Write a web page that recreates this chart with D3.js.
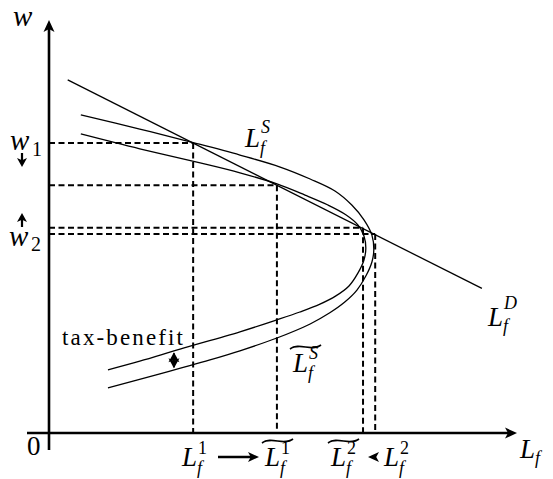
<!DOCTYPE html>
<html>
<head>
<meta charset="utf-8">
<script src="https://cdn.jsdelivr.net/npm/d3@7"></script>
<style>
  body { margin: 0; background: #fff; }
  .rm { font-family: "Liberation Serif"; font-style: normal; }
  .it { font-family: "Liberation Serif"; font-style: italic; }
</style>
</head>
<body>
<svg id="mainFrame" width="553" height="479"></svg>
<script>
const svg = d3.select('#mainFrame');
const width = +svg.attr('width');
const height = +svg.attr('height');

// labour demand L_f^D, two end points (L, w)
const demandL = [0.40, 9.25];
const demandW = [8.55, 3.50];

// original supply L_f^S: upper arm -> bend -> lower arm
const supplyL = [0.68, 1.94, 3.12, 4.08, 4.94, 5.58, 6.11, 6.47, 6.73, 6.90,
                 6.94, 6.90, 6.77, 6.58, 6.32, 6.00, 5.58, 4.87, 4.08, 3.44, 2.37, 1.26];
const supplyW = [7.70, 7.36, 7.02, 6.73, 6.44, 6.15, 5.86, 5.52, 5.16, 4.79,
                 4.43, 4.14, 3.80, 3.46, 3.17, 2.91, 2.64, 2.30, 1.99, 1.77, 1.43, 1.09];

// supply after tax-benefit, ~L_f^S
const taxSupplyL = [0.68, 1.94, 3.23, 4.08, 4.87, 5.47, 5.96, 6.35, 6.60, 6.73,
                    6.77, 6.73, 6.60, 6.41, 6.13, 5.79, 5.36, 4.87, 4.08, 2.80, 1.94, 1.26];
const taxSupplyW = [7.24, 6.88, 6.54, 6.30, 6.03, 5.76, 5.52, 5.28, 5.04, 4.77,
                    4.48, 4.19, 3.87, 3.56, 3.32, 3.12, 2.93, 2.74, 2.45, 2.03, 1.74, 1.53];

// equilibria: L_f^1, ~L_f^1, ~L_f^2, L_f^2
const eqNames = ['1', '1', '2', '2'];
const eqTilde = [false, true, true, false];
const eqL = [3.08, 4.87, 6.71, 6.97];
const eqW = [7.02, 6.00, 4.97, 4.82];

const x = d3.scaleLinear().domain([0, 10]).range([49, 517]);
const y = d3.scaleLinear().domain([0, 10]).range([433, 20]);

const g = svg.append('g');

const pts = (ls, ws) => ls.map((l, i) => [l, ws[i]]);
const curve = d3.line()
    .x(d => x(d[0]))
    .y(d => y(d[1]))
    .curve(d3.curveCatmullRom.alpha(0.5));

// filled arrow head, tip at (tx,ty), pointing along (dx,dy)
const head = (tx, ty, dx, dy, len, half) => {
    const bx = tx - dx * len, by = ty - dy * len;
    const p = d3.path();
    p.moveTo(tx, ty);
    p.lineTo(bx - dy * half, by + dx * half);
    p.lineTo(bx + dx * len * 0.25, by + dy * len * 0.25);
    p.lineTo(bx + dy * half, by - dx * half);
    p.closePath();
    g.append('path').attr('d', p.toString()).attr('fill', 'black');
};

const txt = (px, py, size, s, italic) => g.append('text')
    .attr('class', italic ? 'it' : 'rm')
    .attr('x', px).attr('y', py)
    .attr('font-size', size)
    .attr('fill', 'black')
    .text(s);

// dashed guides
const eq = eqL.map((l, i) => ({L: l, w: eqW[i]}));
g.selectAll('.hdash').data(eq).enter().append('line')
    .attr('x1', x(0)).attr('x2', d => x(d.L))
    .attr('y1', d => y(d.w)).attr('y2', d => y(d.w))
    .attr('stroke', 'black').attr('stroke-width', 2).attr('stroke-dasharray', '6,3.5');
g.selectAll('.vdash').data(eq).enter().append('line')
    .attr('x1', d => x(d.L)).attr('x2', d => x(d.L))
    .attr('y1', d => y(d.w)).attr('y2', y(0))
    .attr('stroke', 'black').attr('stroke-width', 2).attr('stroke-dasharray', '6,3.5');

// curves
g.append('path').attr('d', curve(pts(demandL, demandW)))
    .attr('fill', 'none').attr('stroke', 'black').attr('stroke-width', 1.3);
g.append('path').attr('d', curve(pts(supplyL, supplyW)))
    .attr('fill', 'none').attr('stroke', 'black').attr('stroke-width', 1.3);
g.append('path').attr('d', curve(pts(taxSupplyL, taxSupplyW)))
    .attr('fill', 'none').attr('stroke', 'black').attr('stroke-width', 1.3);

// axes
g.append('line').attr('x1', x(0)).attr('x2', x(0)).attr('y1', y(-0.41)).attr('y2', y(10) + 6)
    .attr('stroke', 'black').attr('stroke-width', 2.6);
head(x(0), y(10), 0, -1, 12, 5.5);
g.append('line').attr('x1', x(-0.47)).attr('x2', x(10) - 6).attr('y1', y(0)).attr('y2', y(0))
    .attr('stroke', 'black').attr('stroke-width', 2.6);
head(x(10), y(0), 1, 0, 12, 5.5);

// math label: base letter with sub / sup, optional wide tilde
const tilde = (x0, x1, yy) => {
    const w = x1 - x0;
    g.append('path')
        .attr('d', `M${x0},${yy + 2} C${x0 + w * 0.3},${yy - 5} ${x0 + w * 0.7},${yy + 5} ${x1},${yy - 2}`)
        .attr('fill', 'none').attr('stroke', 'black').attr('stroke-width', 1.6);
};
const math = (px, py, base, sub, sup, opt = {}) => {
    const b = txt(px, py, opt.size || 27, base, true);
    const bw = b.node().getComputedTextLength();
    let w = bw;
    if (sub) {
        const s = txt(px + bw + (opt.subDx || 0), py + (opt.subDy || 6), 18, sub, true);
        w = Math.max(w, bw + (opt.subDx || 0) + s.node().getComputedTextLength());
    }
    if (sup) {
        const s = txt(px + bw + (opt.supDx || 1), py - (opt.supDy || 11), 18, sup, !opt.supUpright);
        w = Math.max(w, bw + (opt.supDx || 1) + s.node().getComputedTextLength());
    }
    if (opt.tilde) tilde(px - 3, px + w + 3, py - 25);
    return w;
};

// axis names
math(13, 26, 'w', null, null, {size: 29});
math(520, 458, 'L', 'f', null, {subDy: 6});
txt(27, 455, 27, '0', false);

// wage labels
math(10, 150, 'w', null, null, {size: 29});
txt(32, 156, 20, '1', false);
math(9, 246, 'w', null, null, {size: 29});
txt(31, 251, 20, '2', false);
g.append('line').attr('x1', 22).attr('x2', 22).attr('y1', 153).attr('y2', 161)
    .attr('stroke', 'black').attr('stroke-width', 2.2);
head(22, 167, 0, 1, 9, 5);
g.append('line').attr('x1', 22).attr('x2', 22).attr('y1', 227).attr('y2', 219)
    .attr('stroke', 'black').attr('stroke-width', 2.2);
head(22, 213, 0, -1, 9, 5);

// quantity labels under the axis
const qx = [182, 265, 331, 384];
eq.forEach((d, i) => {
    math(qx[i], 466, 'L', 'f', eqNames[i], {subDy: 8, supDy: 12, supUpright: true, tilde: eqTilde[i]});
});
g.append('line').attr('x1', 218).attr('x2', 252).attr('y1', 457).attr('y2', 457)
    .attr('stroke', 'black').attr('stroke-width', 2.4);
head(259, 457, 1, 0, 11, 5);
head(368, 457, -1, 0, 11, 5);

// curve labels
math(245, 147, 'L', 'f', 'S', {subDy: 7, supDy: 14});
math(488, 326, 'L', 'f', 'D', {subDy: 6, supDy: 17});
math(293, 372, 'L', 'f', 'S', {subDy: 7, supDy: 13, tilde: true});

// tax-benefit note and its shift marker
txt(62, 345, 23, 'tax-benefit', false)
    .attr('textLength', 121).attr('lengthAdjust', 'spacing');
const hx = x(2.67), hy = y(1.76);
g.append('line').attr('x1', hx).attr('x2', hx).attr('y1', hy - 7).attr('y2', hy + 7)
    .attr('stroke', 'black').attr('stroke-width', 2);
head(hx, hy - 8, 0, -1, 10, 5.5);
head(hx, hy + 8, 0, 1, 10, 5.5);
</script>
</body>
</html>
